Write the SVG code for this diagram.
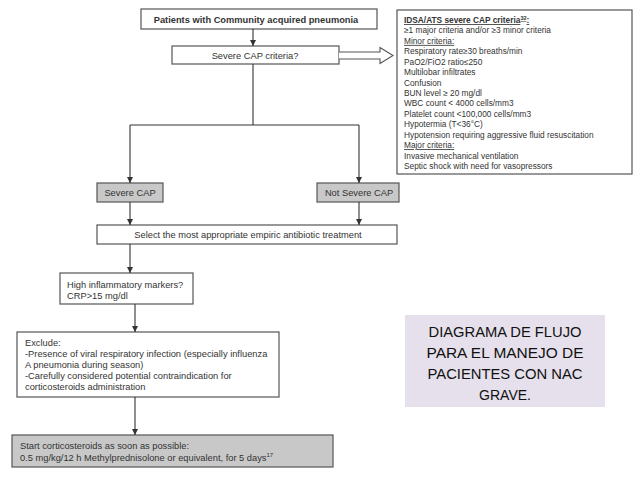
<svg xmlns="http://www.w3.org/2000/svg" width="638" height="479" viewBox="0 0 638 479">
<defs>
<marker id="ah" viewBox="0 0 6 6" refX="6" refY="3" markerWidth="6" markerHeight="6" markerUnits="userSpaceOnUse" orient="auto">
<path d="M0,0 L6,3 L0,6 z" fill="#333"/>
</marker>
<style>
.box{fill:#fff;stroke:#555;stroke-width:1.2}
.gbox{fill:#c8c8c8;stroke:#555;stroke-width:1.2}
.t{font-family:"Liberation Sans",Arial,sans-serif;font-size:9.3px;fill:#333}
.s{font-size:8.3px}
.c{text-anchor:middle}
.b{font-weight:bold}
.u{text-decoration:underline}
.con{fill:none;stroke:#333;stroke-width:1.1}
.big{font-family:"Liberation Sans",Arial,sans-serif;font-size:15.5px;fill:#111;text-anchor:middle}
</style>
</defs>
<rect width="638" height="479" fill="#fff"/>
<g id="patients">
<rect class="box" x="141" y="9" width="236" height="20"/>
<text class="t b c" x="256" y="23" font-size="10.4px">Patients with Community acquired pneumonia</text>
</g>
<g id="criteria-q">
<rect class="box" x="172" y="46" width="167" height="18"/>
<text class="t c" x="255" y="58.5">Severe CAP criteria?</text>
</g>
<g id="idsa">
<rect class="box" x="397" y="10" width="235" height="164" stroke="#444" stroke-width="1.5"/>
<text class="t s" x="404" y="23"><tspan class="b u">IDSA/ATS severe CAP criteria</tspan><tspan class="b u" font-size="5.5px" dy="-3">32</tspan><tspan class="b u" dy="3">:</tspan></text>
<text class="t s" x="404" y="33.4">≥1 major criteria and/or ≥3 minor criteria</text>
<text class="t s u" x="404" y="43.9">Minor criteria:</text>
<text class="t s" x="404" y="54.3">Respiratory rate≥30 breaths/min</text>
<text class="t s" x="404" y="64.7">PaO2/FiO2 ratio≤250</text>
<text class="t s" x="404" y="75.2">Multilobar infiltrates</text>
<text class="t s" x="404" y="85.6">Confusion</text>
<text class="t s" x="404" y="96">BUN level ≥ 20 mg/dl</text>
<text class="t s" x="404" y="106.4">WBC count &lt; 4000 cells/mm3</text>
<text class="t s" x="404" y="116.9">Platelet count &lt;100,000 cells/mm3</text>
<text class="t s" x="404" y="127.3">Hypotermia (T&lt;36°C)</text>
<text class="t s" x="404" y="137.7">Hypotension requiring aggressive fluid resuscitation</text>
<text class="t s u" x="404" y="148.2">Major criteria:</text>
<text class="t s" x="404" y="158.6">Invasive mechanical ventilation</text>
<text class="t s" x="404" y="169">Septic shock with need for vasopressors</text>
</g>
<g id="severe">
<rect class="gbox" x="97" y="183" width="66" height="19"/>
<text class="t c" x="130" y="196">Severe CAP</text>
</g>
<g id="not-severe">
<rect class="gbox" x="317" y="183" width="82" height="19"/>
<text class="t c" x="359" y="196">Not Severe CAP</text>
</g>
<g id="select">
<rect class="box" x="97" y="225" width="300" height="19"/>
<text class="t c" x="248" y="238">Select the most appropriate empiric antibiotic treatment</text>
</g>
<g id="high">
<rect class="box" x="60" y="273" width="133" height="31"/>
<text class="t" x="67" y="288">High inflammatory markers?</text>
<text class="t" x="67" y="299">CRP&gt;15 mg/dl</text>
</g>
<g id="exclude">
<rect class="box" x="17" y="332" width="262" height="65"/>
<text class="t" x="25" y="345.5">Exclude:</text>
<text class="t" x="25" y="356.5">-Presence of viral respiratory infection (especially influenza</text>
<text class="t" x="25" y="367.5">A pneumonia during season)</text>
<text class="t" x="25" y="378.5">-Carefully considered potential contraindication for</text>
<text class="t" x="25" y="389.5">corticosteroids administration</text>
</g>
<g id="start">
<rect class="gbox" x="12" y="435" width="321" height="32"/>
<text class="t" x="20" y="448.5">Start corticosteroids as soon as possible:</text>
<text class="t" x="20" y="460.5">0.5 mg/kg/12 h Methylprednisolone or equivalent, for 5 days<tspan font-size="6px" dy="-3.5">17</tspan></text>
</g>
<g id="title">
<rect x="405" y="315" width="200" height="92" fill="#e5e0eb"/>
<text class="big" x="505" y="337" textLength="153" lengthAdjust="spacingAndGlyphs">DIAGRAMA DE FLUJO</text>
<text class="big" x="505" y="358" textLength="157" lengthAdjust="spacingAndGlyphs">PARA EL MANEJO  DE</text>
<text class="big" x="505" y="379" textLength="155" lengthAdjust="spacingAndGlyphs">PACIENTES CON NAC</text>
<text class="big" x="505" y="400" textLength="52" lengthAdjust="spacingAndGlyphs">GRAVE.</text>
</g>
<g id="connectors">
<line class="con" x1="253" y1="29" x2="253" y2="46" marker-end="url(#ah)"/>
<polyline class="con" points="253,64 253,125"/>
<polyline class="con" points="130,125 359,125"/>
<line class="con" x1="130" y1="125" x2="130" y2="183" marker-end="url(#ah)"/>
<line class="con" x1="359" y1="125" x2="359" y2="183" marker-end="url(#ah)"/>
<line class="con" x1="130" y1="202" x2="130" y2="225" marker-end="url(#ah)"/>
<line class="con" x1="359" y1="202" x2="359" y2="225" marker-end="url(#ah)"/>
<line class="con" x1="130" y1="244" x2="130" y2="273" marker-end="url(#ah)"/>
<line class="con" x1="135" y1="304" x2="135" y2="332" marker-end="url(#ah)"/>
<line class="con" x1="135" y1="397" x2="135" y2="435" marker-end="url(#ah)"/>
<path d="M339,52 L380,52 L380,47.5 L393,55.5 L380,63.5 L380,59 L339,59" fill="#fff" stroke="#555" stroke-width="1.1"/>
</g>
</svg>
